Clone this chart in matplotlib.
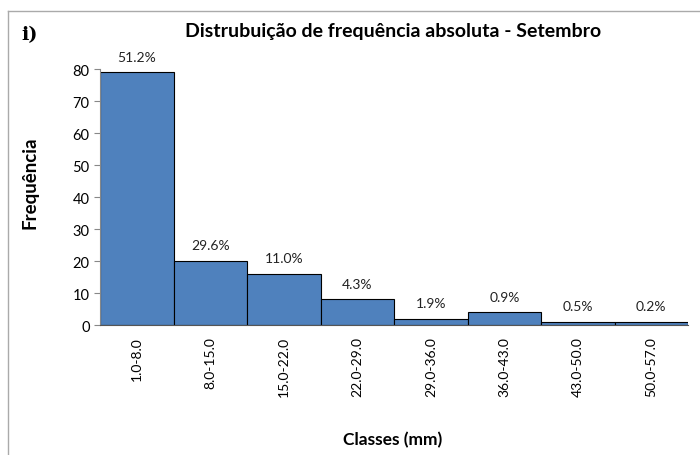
import matplotlib.pyplot as plt
from matplotlib.lines import Line2D

classes = ["1.0-8.0", "8.0-15.0", "15.0-22.0", "22.0-29.0",
           "29.0-36.0", "36.0-43.0", "43.0-50.0", "50.0-57.0"]
freq = [79, 20, 16, 8, 2, 4, 1, 1]
pct = ["51.2%", "29.6%", "11.0%", "4.3%", "1.9%", "0.9%", "0.5%", "0.2%"]

plt.rcParams['font.family'] = ['Lato', 'DejaVu Sans']

fig = plt.figure(figsize=(7, 4.56), dpi=100)
ax = fig.add_axes([0.143, 0.285, 0.84, 0.561])

x = list(range(len(classes)))
ax.bar(x, freq, width=1.0, color="#4F81BD", edgecolor="black", linewidth=0.8)
for xi, f, p in zip(x, freq, pct):
    ax.text(xi, f + 3, p, ha="center", va="bottom", fontsize=10, color="#222222")

ax.set_xlim(-0.5, 7.5)
ax.set_ylim(0, 80)
ax.set_yticks(range(0, 81, 10))
ax.set_xticks(x)
ax.set_xticklabels(classes, rotation=90, fontsize=10)
ax.tick_params(axis="x", length=0, pad=8)
ax.tick_params(axis="y", labelsize=10.5, length=4, color="#888888")
ax.spines["top"].set_visible(False)
ax.spines["right"].set_visible(False)
ax.spines["left"].set_color("#888888")
ax.spines["bottom"].set_color("#555555")

fig.text(0.561, 0.93, "Distrubuição de frequência absoluta - Setembro",
         ha="center", va="center", fontsize=14, fontweight="bold")
fig.text(0.043, 0.6, "Frequência", rotation=90, ha="center", va="center",
         fontsize=13.5, fontweight="bold")
fig.text(0.561, 0.035, "Classes (mm)", ha="center", va="center",
         fontsize=12.5, fontweight="bold")
fig.text(0.03, 0.922, "i)", ha="left", va="center", fontsize=14,
         fontweight="bold", fontfamily="serif")

# chart frame
fig.add_artist(Line2D([0.012, 1.0], [0.973, 0.973], color="#aaaaaa", lw=1))
fig.add_artist(Line2D([0.012, 0.012], [0.0, 0.973], color="#aaaaaa", lw=1))

fig.savefig("out.png", dpi=100)
